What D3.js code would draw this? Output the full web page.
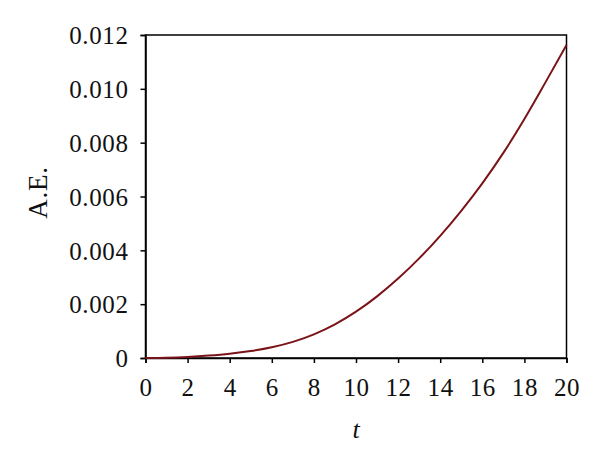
<!DOCTYPE html>
<html>
<head>
<meta charset="utf-8">
<script src="https://cdn.jsdelivr.net/npm/d3@7"></script>
<style>
  html, body { margin: 0; padding: 0; background: #fff; }
  svg text { font-family: "Liberation Serif", "Times New Roman", serif; fill: #111; }
</style>
</head>
<body>
<svg id="chart" width="600" height="467"></svg>
<script>
const tValues = [0,1,2,3,4,5,6,7,8,9,10,11,12,13,14,15,16,17,18,19,20];
const aeValues = [0, 0.00001, 0.00004, 0.00009, 0.00016, 0.00026, 0.00040, 0.00060, 0.00088, 0.00125, 0.00172, 0.00229, 0.00295, 0.00370, 0.00454, 0.00547, 0.00649, 0.00762, 0.00888, 0.01024, 0.01163];
const xTicks = [0,2,4,6,8,10,12,14,16,18,20];
const yTicks = [0, 0.002, 0.004, 0.006, 0.008, 0.010, 0.012];
const yTickLabels = ["0", "0.002", "0.004", "0.006", "0.008", "0.010", "0.012"];

const svg = d3.select("#chart");
const margin = {left: 145.5, top: 35, right: 33.5, bottom: 109};
const W = 600, H = 467;
const x = d3.scaleLinear().domain([0, 20]).range([margin.left, W - margin.right]);
const y = d3.scaleLinear().domain([0, 0.012]).range([H - margin.bottom, margin.top]);

// frame
svg.append("rect")
  .attr("x", x(0)).attr("y", y(0.012))
  .attr("width", x(20) - x(0)).attr("height", y(0) - y(0.012))
  .attr("fill", "none").attr("stroke", "#000").attr("stroke-width", 1.5);

const xAxis = svg.append("g")
  .attr("transform", `translate(0,${y(0)})`)
  .call(d3.axisBottom(x).tickValues(xTicks).tickSize(5).tickPadding(15).tickFormat(d3.format("d")));
const yAxis = svg.append("g")
  .attr("transform", `translate(${x(0)},0)`)
  .call(d3.axisLeft(y).tickValues(yTicks).tickSize(5).tickPadding(12)
    .tickFormat((d, i) => yTickLabels[i]));

[xAxis, yAxis].forEach(g => {
  g.select(".domain").attr("stroke", "#000").attr("stroke-width", 1.5);
  g.selectAll(".tick line").attr("stroke", "#000").attr("stroke-width", 1.5);
  g.selectAll(".tick text")
    .style("font-family", '"Liberation Serif", serif')
    .style("font-size", "25px").style("letter-spacing", "0.6px").attr("fill", "#111");
});
yAxis.selectAll(".tick text").attr("dy", "0.35em");

// curve
const line = d3.line().x((d, i) => x(tValues[i])).y(d => y(d)).curve(d3.curveMonotoneX);
svg.append("path")
  .datum(aeValues)
  .attr("d", line)
  .attr("fill", "none")
  .attr("stroke", "#7b1418")
  .attr("stroke-width", 2);

// axis titles
svg.append("text")
  .attr("x", x(10)).attr("y", 438)
  .attr("text-anchor", "middle")
  .style("font-size", "26px").style("font-style", "italic")
  .text("t");
svg.append("text")
  .attr("transform", `translate(47,${(y(0) + y(0.012)) / 2 - 4}) rotate(-90)`)
  .attr("text-anchor", "middle")
  .style("font-size", "27px").style("letter-spacing", "0.8px")
  .text("A.E.");
</script>
</body>
</html>
